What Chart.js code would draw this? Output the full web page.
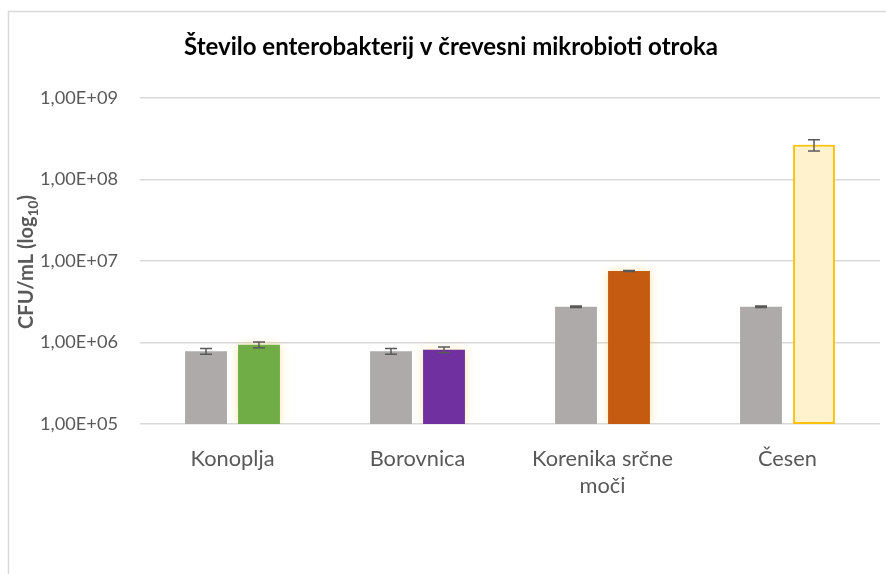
<!DOCTYPE html>
<html>
<head>
<meta charset="utf-8">
<script src="https://cdn.jsdelivr.net/npm/chart.js@4/dist/chart.umd.min.js"></script>
<style>
  html, body { margin: 0; padding: 0; background: #fff; }
  #wrap { position: relative; width: 886px; height: 574px; }
  canvas { display: block; }
</style>
</head>
<body>
<div id="wrap"><canvas id="c" width="886" height="574"></canvas></div>
<script>
// ---- data ----
const categories = ['Konoplja', 'Borovnica', ['Korenika srčne', 'moči'], 'Česen'];
const controlValues = [7.8e5, 7.8e5, 2.74e6, 2.74e6];
const controlErrors = [6.5e4, 6.5e4, 6e4, 6e4];
const treatedValues = [9.4e5, 8.15e5, 7.55e6, 2.66e8];
const treatedErrors = [7.5e4, 6.5e4, 1.2e5, 4.2e7];
const tickValues = [1e5, 1e6, 1e7, 1e8, 1e9];
const tickLabels = ['1,00E+05', '1,00E+06', '1,00E+07', '1,00E+08', '1,00E+09'];
const titleText = 'Število enterobakterij v črevesni mikrobioti otroka';

const FONT = 'Lato, "Open Sans", sans-serif';

// size a font so a sample string matches the width seen in the reference
const mctx = document.createElement('canvas').getContext('2d');
function fitSize(text, weight, target) {
  mctx.font = weight + ' 100px ' + FONT;
  return Math.round(100 * target / mctx.measureText(text).width * 10) / 10;
}
const titleSize = fitSize(titleText, 'bold', 535);
const tickSize = fitSize('1,00E+09', 'normal', 78);
const xSize = fitSize('Konoplja', 'normal', 84);
const yTitleSize = fitSize('CFU/mL (log)', 'bold', 118);

const treatedFill = ['#70AD47', '#7030A0', '#C55A11', '#FFF2CC'];
const treatedBorder = ['#70AD47', '#7030A0', '#C55A11', '#FFC000'];
const treatedBW = [0, 0, 0, 2];

const framePlugin = {
  id: 'frame',
  beforeDraw(chart) {
    const ctx = chart.ctx;
    ctx.save();
    ctx.fillStyle = '#fff';
    ctx.fillRect(0, 0, chart.width, chart.height);
    ctx.strokeStyle = '#D9D9D9';
    ctx.lineWidth = 1.5;
    ctx.beginPath();
    ctx.moveTo(8.5, chart.height + 5);
    ctx.lineTo(8.5, 11.5);
    ctx.lineTo(chart.width + 5, 11.5);
    ctx.stroke();
    // title
    ctx.fillStyle = '#000';
    ctx.font = 'bold ' + titleSize + 'px ' + FONT;
    ctx.textAlign = 'center';
    ctx.textBaseline = 'middle';
    ctx.fillText(titleText, 451, 47);
    // y axis title with subscript
    ctx.translate(27, 262);
    ctx.rotate(-Math.PI / 2);
    const p1 = 'CFU/mL (log', sub = '10', p3 = ')';
    const big = 'bold ' + yTitleSize + 'px ' + FONT;
    const small = 'bold ' + (yTitleSize * 0.68).toFixed(1) + 'px ' + FONT;
    ctx.font = big;
    const w1 = ctx.measureText(p1).width;
    const w3 = ctx.measureText(p3).width;
    ctx.font = small;
    const w2 = ctx.measureText(sub).width;
    const total = w1 + w2 + w3;
    let x = -total / 2;
    ctx.textAlign = 'left';
    ctx.fillStyle = '#595959';
    ctx.font = big;
    ctx.fillText(p1, x, 0);
    x += w1;
    ctx.font = small;
    ctx.fillText(sub, x, yTitleSize * 0.33);
    x += w2;
    ctx.font = big;
    ctx.fillText(p3, x, 0);
    ctx.restore();
  }
};

const glowPlugin = {
  id: 'glow',
  beforeDatasetDraw(chart, args) {
    if (args.index === 1) {
      chart.ctx.save();
      chart.ctx.shadowColor = 'rgba(255, 200, 60, 0.45)';
      chart.ctx.shadowBlur = 9;
    }
  },
  afterDatasetDraw(chart, args) {
    if (args.index === 1) chart.ctx.restore();
  }
};

const errorPlugin = {
  id: 'errbars',
  afterDatasetsDraw(chart) {
    const ctx = chart.ctx;
    const ys = chart.scales.y;
    const errs = [controlErrors, treatedErrors];
    const vals = [controlValues, treatedValues];
    ctx.save();
    ctx.strokeStyle = '#595959';
    ctx.lineWidth = 1.5;
    for (let d = 0; d < 2; d++) {
      const meta = chart.getDatasetMeta(d);
      meta.data.forEach((bar, i) => {
        const v = vals[d][i], e = errs[d][i];
        const yt = ys.getPixelForValue(v + e);
        const yb = ys.getPixelForValue(v - e);
        const x = bar.x;
        ctx.beginPath();
        ctx.moveTo(x, yt); ctx.lineTo(x, yb);
        ctx.moveTo(x - 6, yt); ctx.lineTo(x + 6, yt);
        ctx.moveTo(x - 6, yb); ctx.lineTo(x + 6, yb);
        ctx.stroke();
      });
    }
    ctx.restore();
  }
};

new Chart(document.getElementById('c'), {
  type: 'bar',
  data: {
    labels: categories,
    datasets: [
      {
        label: 'Kontrola',
        data: controlValues,
        backgroundColor: '#AEAAAA',
        borderWidth: 0,
        categoryPercentage: 0.573,
        barPercentage: 0.79
      },
      {
        label: 'Izvleček',
        data: treatedValues,
        backgroundColor: treatedFill,
        borderColor: treatedBorder,
        borderWidth: treatedBW,
        borderSkipped: false,
        categoryPercentage: 0.573,
        barPercentage: 0.79
      }
    ]
  },
  plugins: [framePlugin, glowPlugin, errorPlugin],
  options: {
    responsive: false,
    animation: false,
    layout: { padding: { left: 40, right: 6, top: 98, bottom: 0 } },
    plugins: {
      legend: { display: false },
      title: { display: false },
      tooltip: { enabled: false }
    },
    scales: {
      x: {
        grid: { display: false, drawTicks: false },
        border: { display: false },
        ticks: {
          color: '#595959',
          font: { family: FONT, size: xSize, lineHeight: '27px' },
          padding: 21,
          maxRotation: 0,
          autoSkip: false
        },
        afterFit(scale) { scale.height = 150; }
      },
      y: {
        type: 'logarithmic',
        min: 1e5,
        max: 1e9,
        grid: { color: '#D9D9D9', lineWidth: 1.5, drawTicks: false },
        border: { display: false },
        afterBuildTicks(scale) {
          scale.ticks = tickValues.map(v => ({ value: v, major: true }));
        },
        ticks: {
          color: '#595959',
          font: { family: FONT, size: tickSize },
          padding: 22,
          callback(value, index) { return tickLabels[index]; }
        },
        afterFit(scale) { scale.width = 100; }
      }
    }
  }
});
</script>
</body>
</html>
